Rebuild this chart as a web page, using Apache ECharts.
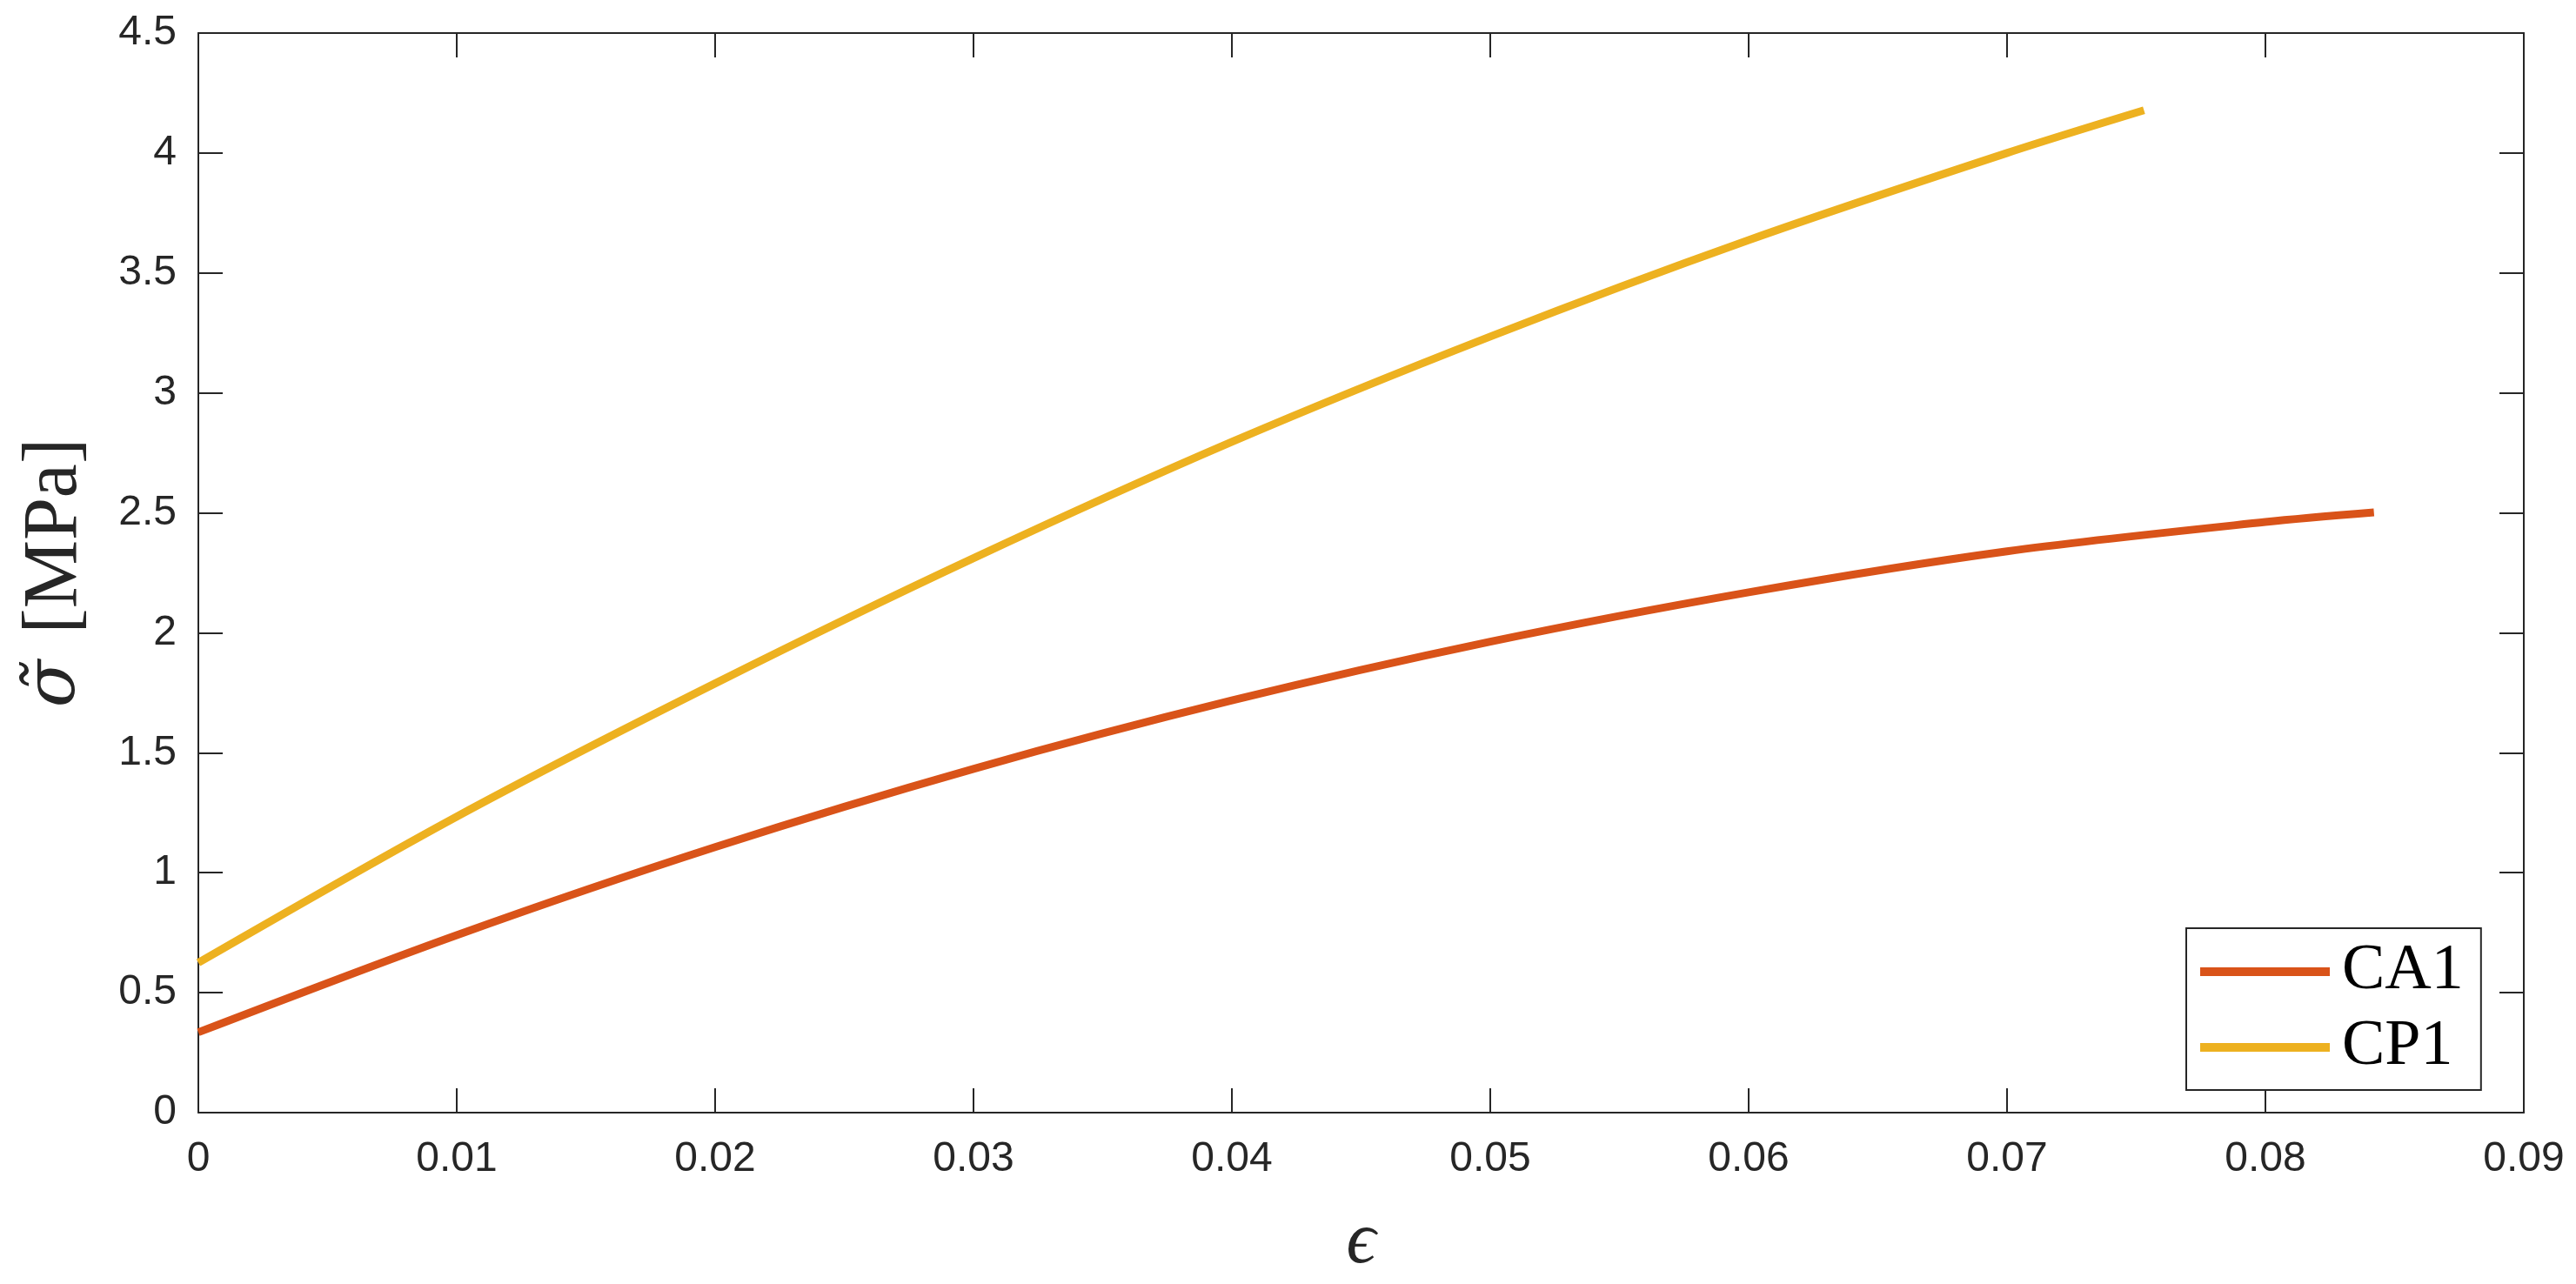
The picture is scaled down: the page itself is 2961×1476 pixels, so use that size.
<!DOCTYPE html>
<html>
<head>
<meta charset="utf-8">
<script src="https://cdn.jsdelivr.net/npm/echarts@6/dist/echarts.min.js"></script>
<style>
    html, body { margin: 0; padding: 0; background: #fff; }
    #chart { width: 2961px; height: 1476px; }
</style>
</head>
<body>
<div id="chart"></div>
<script>
// strain values and stress values
const ca1Strain = [0, 0.01, 0.02, 0.03, 0.04, 0.05, 0.06, 0.07, 0.08, 0.0842]
const ca1Stress = [0.335, 0.740, 1.107, 1.433, 1.718, 1.963, 2.169, 2.340, 2.462, 2.502]
const cp1Strain = [0, 0.01, 0.02, 0.03, 0.04, 0.05, 0.06, 0.07, 0.0753]
const cp1Stress = [0.625, 1.234, 1.789, 2.311, 2.796, 3.235, 3.637, 4.000, 4.178]

const axisColor = '#262626'
const tickFont = 'Liberation Sans, Arial, Helvetica, sans-serif'
const mathFont = 'Liberation Serif, Times New Roman, serif'

const pairs = (xs, ys) => xs.map((x, i) => [x, ys[i]])

const boxAxis = (extra) => Object.assign({
    type: 'value',
    axisLine: { show: true, onZero: false, lineStyle: { color: axisColor, width: 2 } },
    axisTick: { show: true, inside: true, length: 28, lineStyle: { color: axisColor, width: 2 } },
    splitLine: { show: false },
}, extra)

const chart = echarts.init(document.getElementById('chart'))
chart.setOption({
    animation: false,
    backgroundColor: '#fff',
    grid: { left: 228, right: 60, top: 38, bottom: 192 },
    legend: {
        data: ['CA1', 'CP1'],
        orient: 'vertical',
        left: 2513,
        top: 1067,
        padding: [13, 20, 12, 16],
        itemGap: 13,
        itemWidth: 149,
        itemHeight: 10,
        icon: 'rect',
        borderColor: axisColor,
        borderWidth: 2,
        backgroundColor: '#fff',
        textStyle: {
            fontFamily: mathFont,
            fontSize: 74,
            lineHeight: 72,
            color: '#000',
            padding: [0, 0, 0, 9],
        },
    },
    xAxis: [
        boxAxis({
            position: 'bottom',
            min: 0, max: 0.09, interval: 0.01,
            name: 'ϵ',
            nameLocation: 'middle',
            nameGap: 108,
            nameTextStyle: { fontFamily: mathFont, fontStyle: 'italic', fontSize: 84, color: axisColor },
            axisLabel: { fontFamily: tickFont, fontSize: 48, color: axisColor, margin: 30 },
        }),
        boxAxis({
            position: 'top',
            min: 0, max: 0.09, interval: 0.01,
            axisLabel: { show: false },
        }),
    ],
    yAxis: [
        boxAxis({
            position: 'left',
            min: 0, max: 4.5, interval: 0.5,
            name: '{i|σ̃}{s|\u2003}[MPa]',
            nameLocation: 'middle',
            nameGap: 120,
            nameTextStyle: {
                fontFamily: mathFont, fontSize: 88, color: axisColor,
                rich: {
                    i: { fontFamily: 'DejaVu Serif', fontStyle: 'italic', fontSize: 80, color: axisColor },
                    s: { fontSize: 30 },
                },
            },
            axisLabel: { fontFamily: tickFont, fontSize: 48, color: axisColor, margin: 25 },
        }),
        boxAxis({
            position: 'right',
            min: 0, max: 4.5, interval: 0.5,
            axisLabel: { show: false },
        }),
    ],
    series: [
        {
            name: 'CA1',
            type: 'line',
            data: pairs(ca1Strain, ca1Stress),
            smooth: 0.3,
            showSymbol: false,
            color: '#D95319',
            lineStyle: { width: 9, color: '#D95319' },
        },
        {
            name: 'CP1',
            type: 'line',
            data: pairs(cp1Strain, cp1Stress),
            smooth: 0.3,
            showSymbol: false,
            color: '#EDB120',
            lineStyle: { width: 9, color: '#EDB120' },
        },
    ],
})
</script>
</body>
</html>
